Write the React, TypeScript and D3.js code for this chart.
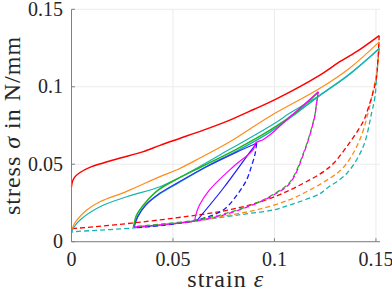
import React from "react";
import * as d3 from "d3";

type Pt = [number, number];

// strain / stress pairs
const redLoad: Pt[] = [
  [0, 0.0355], [0.0005, 0.039], [0.0015, 0.0415], [0.004, 0.0445], [0.009, 0.048],
  [0.016, 0.051], [0.024, 0.054], [0.035, 0.058], [0.0436, 0.0622], [0.053, 0.0665],
  [0.065, 0.072], [0.078, 0.0785], [0.09, 0.0855], [0.1, 0.0915], [0.1224, 0.1075],
  [0.132, 0.116], [0.142, 0.124], [0.1516, 0.133],
];
const redUnload: Pt[] = [
  [0.1516, 0.133], [0.151, 0.118], [0.15, 0.104], [0.1454, 0.083], [0.1437, 0.0775],
  [0.1356, 0.0613], [0.127, 0.048], [0.111, 0.0355], [0.1, 0.029], [0.09, 0.0245],
  [0.0748, 0.0198], [0.058, 0.0165], [0.0297, 0.012], [0.0017, 0.0086], [0, 0.0085],
];
const orangeLoad: Pt[] = [
  [0, 0.0075], [0.001, 0.0105], [0.0026, 0.014], [0.0075, 0.0205], [0.014, 0.0258],
  [0.0272, 0.0325], [0.0436, 0.042], [0.0526, 0.0468], [0.0633, 0.054], [0.078, 0.0645],
  [0.0978, 0.081], [0.1224, 0.099], [0.137, 0.112], [0.1516, 0.129],
];
const orangeUnload: Pt[] = [
  [0.1516, 0.129], [0.151, 0.115], [0.1487, 0.098], [0.142, 0.0656], [0.134, 0.048],
  [0.1273, 0.041], [0.119, 0.0345], [0.1076, 0.0272], [0.091, 0.0205], [0.075, 0.0165],
  [0.06, 0.013], [0.045, 0.011], [0.031, 0.0095],
];
const cyanLoad: Pt[] = [
  [0, 0.006], [0.001, 0.009], [0.0042, 0.014], [0.014, 0.0226], [0.0272, 0.029],
  [0.0436, 0.0355], [0.0526, 0.041], [0.0731, 0.056], [0.1002, 0.0765], [0.1076, 0.083],
  [0.1224, 0.0946], [0.137, 0.108], [0.1516, 0.1248],
];
const cyanUnload: Pt[] = [
  [0.1516, 0.1248], [0.1505, 0.109], [0.1495, 0.0935], [0.148, 0.084], [0.1437, 0.0613],
  [0.1356, 0.044], [0.1257, 0.0344], [0.1224, 0.031], [0.1076, 0.0237], [0.0994, 0.0205],
  [0.088, 0.0183], [0.078, 0.0165], [0.058, 0.0129], [0.0297, 0.0088], [0.0017, 0.0065],
  [0, 0.0062],
];
const cyanReload: Pt[] = [
  [0.0308, 0.009], [0.0314, 0.0122], [0.0326, 0.0162], [0.0362, 0.0232], [0.0435, 0.031],
  [0.052, 0.0375], [0.0665, 0.0485], [0.0814, 0.0585], [0.0978, 0.0708], [0.11, 0.0822],
  [0.1224, 0.0945], [0.137, 0.1082], [0.1516, 0.1245],
];
const greenLoad: Pt[] = [
  [0.0305, 0.0095], [0.031, 0.0125], [0.032, 0.017], [0.0362, 0.0248], [0.0428, 0.0334],
  [0.051, 0.0398], [0.0658, 0.0495], [0.0814, 0.0598], [0.0978, 0.072], [0.11, 0.0828],
  [0.1216, 0.0965],
];
const greenUnload: Pt[] = [
  [0.1216, 0.0965], [0.1205, 0.087], [0.1198, 0.081], [0.1148, 0.059], [0.1076, 0.0385],
  [0.0994, 0.0305], [0.0912, 0.025], [0.0748, 0.0178], [0.0617, 0.014], [0.045, 0.0115],
  [0.031, 0.0098],
];
const blueLoad: Pt[] = [
  [0.0308, 0.0092], [0.0315, 0.0125], [0.0328, 0.0165], [0.0365, 0.0235], [0.0435, 0.0312],
  [0.052, 0.0378], [0.066, 0.048], [0.0814, 0.0578], [0.0912, 0.0635],
];
const blueUnload: Pt[] = [
  [0.0912, 0.0635], [0.0905, 0.057], [0.0885, 0.048], [0.0863, 0.04], [0.082, 0.031],
  [0.0748, 0.0205], [0.0617, 0.014], [0.045, 0.0105], [0.031, 0.009],
];
const blueReload: Pt[] = [
  [0.0617, 0.0135], [0.0748, 0.0345], [0.088, 0.058], [0.0912, 0.0635],
];
const magentaLoad: Pt[] = [
  [0.0608, 0.014], [0.0612, 0.017], [0.063, 0.0235], [0.068, 0.0334], [0.0797, 0.0484],
  [0.0896, 0.0595], [0.0905, 0.0635], [0.0945, 0.066], [0.0978, 0.069], [0.1076, 0.0806],
  [0.115, 0.089], [0.1216, 0.0968],
];
const magentaUnload: Pt[] = [
  [0.1216, 0.0968], [0.1205, 0.087], [0.12, 0.0817], [0.115, 0.059], [0.1076, 0.0377],
  [0.0994, 0.03], [0.0912, 0.0248], [0.0748, 0.0172], [0.0617, 0.0135], [0.045, 0.011],
  [0.031, 0.0095],
];

const xTicks = [0, 0.05, 0.1, 0.15];
const yTicks = [0, 0.05, 0.1, 0.15];
const xTickLabels = ["0", "0.05", "0.1", "0.15"];
const yTickLabels = ["0", "0.05", "0.1", "0.15"];

const series = [
  { data: cyanUnload, color: "#17b3b3", dashed: true },
  { data: orangeUnload, color: "#ff8c1a", dashed: true },
  { data: redUnload, color: "#ff0000", dashed: true },
  { data: cyanLoad, color: "#17b3b3", dashed: false },
  { data: orangeLoad, color: "#ff8c1a", dashed: false },
  { data: redLoad, color: "#ff0000", dashed: false, width: 1.5 },
  { data: cyanReload, color: "#17b3b3", dashed: false, width: 1.5 },
  { data: blueLoad, color: "#3030ff", dashed: false },
  { data: greenLoad, color: "#1eb41e", dashed: false, width: 1.5 },
  { data: blueUnload, color: "#1a1aff", dashed: true },
  { data: blueReload, color: "#1a1aff", dashed: false },
  { data: greenUnload, color: "#1eb41e", dashed: true, offset: 4 },
  { data: magentaLoad, color: "#ff00ff", dashed: false },
  { data: magentaUnload, color: "#ff00ff", dashed: true },
];

const W = 392;
const H = 294;
const left = 71.5;
const right = 380;
const top = 9.3;
const bottom = 241.7;

export default function App() {
  const x = d3.scaleLinear().domain([0, 0.152]).range([left, right]);
  const y = d3.scaleLinear().domain([0, 0.15]).range([bottom, top]);
  const line = d3
    .line<Pt>()
    .x((d) => x(d[0]))
    .y((d) => y(d[1]))
    .curve(d3.curveCatmullRom.alpha(0.5));

  const font = "'Liberation Serif', 'Times New Roman', serif";

  return (
    <div style={{ position: "fixed", left: 0, top: 0 }}>
      <svg width={W} height={H} style={{ display: "block", background: "#fff" }}>
        {/* grid */}
        {xTicks.map((t) => (
          <line key={"gx" + t} x1={x(t)} x2={x(t)} y1={top} y2={bottom} stroke="#ebebeb" strokeWidth={1} />
        ))}
        {yTicks.map((t) => (
          <line key={"gy" + t} x1={left} x2={right} y1={y(t)} y2={y(t)} stroke="#ebebeb" strokeWidth={1} />
        ))}

        {/* curves */}
        {series.map((s, i) => (
          <path
            key={i}
            d={line(s.data) || ""}
            fill="none"
            stroke={s.color}
            strokeWidth={s.width || (s.dashed ? 1.3 : 1.2)}
            strokeDasharray={s.dashed ? "5,3" : undefined}
            strokeDashoffset={s.offset || 0}
          />
        ))}

        {/* axes */}
        <line x1={left} x2={left} y1={top} y2={bottom} stroke="#808080" strokeWidth={1} />
        <line x1={left} x2={right} y1={bottom} y2={bottom} stroke="#808080" strokeWidth={1} />
        {xTicks.map((t) => (
          <line key={"tx" + t} x1={x(t)} x2={x(t)} y1={bottom} y2={bottom - 3.5} stroke="#808080" />
        ))}
        {yTicks.map((t) => (
          <line key={"ty" + t} x1={left} x2={left + 3.5} y1={y(t)} y2={y(t)} stroke="#808080" />
        ))}

        {/* tick labels */}
        {xTicks.map((t, i) => (
          <text key={"lx" + t} x={x(t)} y={266} textAnchor="middle" fontFamily={font} fontSize={20} fill="#262626">
            {xTickLabels[i]}
          </text>
        ))}
        {yTicks.map((t, i) => (
          <text key={"ly" + t} x={63} y={y(t) + 6.5} textAnchor="end" fontFamily={font} fontSize={20} fill="#262626">
            {yTickLabels[i]}
          </text>
        ))}

        {/* axis labels */}
        <text x={(left + right) / 2} y={287} textAnchor="middle" fontFamily={font} fontSize={24} letterSpacing={1} fill="#262626">
          strain <tspan fontStyle="italic">ε</tspan>
        </text>
        <text
          transform={`translate(20, ${(top + bottom) / 2}) rotate(-90)`}
          textAnchor="middle"
          fontFamily={font}
          fontSize={24}
          letterSpacing={1}
          fill="#262626"
        >
          stress <tspan fontStyle="italic">σ</tspan> in N/mm
        </text>
      </svg>
    </div>
  );
}
